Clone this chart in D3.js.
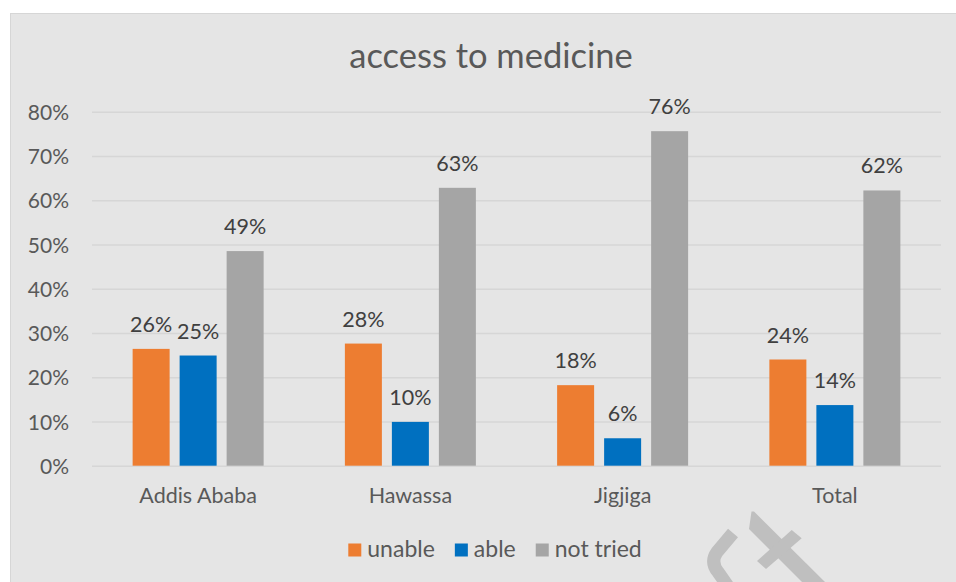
<!DOCTYPE html>
<html>
<head>
<meta charset="utf-8">
<script src="https://cdn.jsdelivr.net/npm/d3@7"></script>
<style>
  html, body { margin: 0; padding: 0; background: #ffffff; }
  svg { display: block; }
  text { font-family: Lato, "Open Sans", sans-serif; }
</style>
</head>
<body>
<svg id="chart" width="956" height="582"></svg>
<script>
// Share of respondents by city and their experience getting medicine
const categories = ["Addis Ababa", "Hawassa", "Jigjiga", "Total"];
const seriesNames = ["unable", "able", "not tried"];
const seriesColors = ["#ED7D31", "#0070C0", "#A5A5A5"];
const unable   = [0.264, 0.276, 0.182, 0.240];
const able     = [0.249, 0.099, 0.062, 0.137];
const notTried = [0.485, 0.628, 0.756, 0.622];
const yTicks = [0, 0.1, 0.2, 0.3, 0.4, 0.5, 0.6, 0.7, 0.8];
const chartTitle = "access to medicine";

const seriesValues = [unable, able, notTried];
const rows = categories.map((c, i) => ({
  category: c,
  values: seriesNames.map((s, j) => ({ series: s, color: seriesColors[j], value: seriesValues[j][i] }))
}));

const svg = d3.select("#chart");
const W = 956, H = 582;

// chart panel
svg.append("rect")
  .attr("x", 10.5).attr("y", 13.5)
  .attr("width", W + 20).attr("height", H + 20)
  .attr("fill", "#e5e5e5").attr("stroke", "#d6d6d6").attr("stroke-width", 1);

const plot = { left: 92, right: 941, top: 111.7, bottom: 465.7 };

const y = d3.scaleLinear().domain([0, 0.8]).range([plot.bottom, plot.top]);
const x0 = d3.scaleBand().domain(categories).range([plot.left, plot.right]).padding(0);
const clusterWidth = 141;
const x1 = d3.scaleBand().domain(seriesNames).range([0, clusterWidth])
  .paddingInner(10 / 47).paddingOuter(5 / 47);
const clusterOffset = (x0.bandwidth() - clusterWidth) / 2;
const pct = d3.format(".0%");

// gridlines
const yAxisGrid = d3.axisLeft(y).tickValues(yTicks)
  .tickSize(-(plot.right - plot.left)).tickFormat("");
const grid = svg.append("g").attr("transform", `translate(${plot.left},0)`).call(yAxisGrid);
grid.select(".domain").remove();
grid.selectAll(".tick line").attr("stroke", "#d6d6d6").attr("stroke-width", 1.5);

// y tick labels
const yAxis = d3.axisLeft(y).tickValues(yTicks).tickSize(0).tickPadding(0).tickFormat(pct);
const ya = svg.append("g").attr("transform", `translate(69,0)`).call(yAxis);
ya.select(".domain").remove();
ya.selectAll(".tick text")
  .attr("font-family", "Lato, sans-serif").attr("font-size", 21)
  .attr("fill", "#595959").attr("dy", "0.36em").attr("x", 0);

// bars
const groups = svg.append("g").selectAll("g").data(rows).join("g")
  .attr("transform", d => `translate(${x0(d.category) + clusterOffset},0)`);

groups.selectAll("rect").data(d => d.values).join("rect")
  .attr("x", d => x1(d.series))
  .attr("y", d => y(d.value))
  .attr("width", x1.bandwidth())
  .attr("height", d => y(0) - y(d.value))
  .attr("fill", d => d.color);

// value labels
groups.selectAll("text").data(d => d.values).join("text")
  .attr("x", d => x1(d.series) + x1.bandwidth() / 2)
  .attr("y", d => y(d.value) - 17)
  .attr("text-anchor", "middle")
  .attr("font-size", 21.5).attr("fill", "#404040")
  .text(d => pct(d.value));

// category axis
const xAxis = d3.axisBottom(x0).tickSize(0).tickPadding(0);
const xa = svg.append("g").attr("transform", `translate(0,503)`).call(xAxis);
xa.select(".domain").remove();
xa.selectAll(".tick text")
  .attr("font-family", "Lato, sans-serif").attr("font-size", 21.5)
  .attr("fill", "#595959").attr("dy", 0).attr("y", 0);

// title
svg.append("text")
  .attr("x", 491).attr("y", 68)
  .attr("text-anchor", "middle")
  .attr("font-size", 34.5).attr("fill", "#595959")
  .text(chartTitle);

// legend
const legend = svg.append("g");
const items = legend.selectAll("g").data(seriesNames).join("g");
items.append("rect")
  .attr("width", 13).attr("height", 13).attr("y", 543.5)
  .attr("fill", (d, i) => seriesColors[i]);
items.append("text")
  .attr("x", 19).attr("y", 557)
  .attr("font-size", 23).attr("fill", "#595959")
  .text(d => d);
let cursor = 0;
const offsets = [];
items.each(function () {
  offsets.push(cursor);
  const w = d3.select(this).select("text").node().getComputedTextLength();
  cursor += 19 + w + 20;
});
const legendWidth = cursor - 20;
const legendStart = 495 - legendWidth / 2;
items.attr("transform", (d, i) => `translate(${legendStart + offsets[i]},0)`);

// corner mark
const mark = svg.append("g").attr("fill", "#bfbfbf");
mark.append("path")
  .attr("d", "M733,533 L717,552 Q710,562 718,572 L732,592")
  .attr("fill", "none").attr("stroke", "#bfbfbf").attr("stroke-width", 13);
mark.append("polygon")
  .attr("points", "751.5,511.5 754,511.5 826,583 803,583 749,529");
mark.append("polygon")
  .attr("points", "791.7,530 801.7,538.3 766,569 757,561");
</script>
</body>
</html>
